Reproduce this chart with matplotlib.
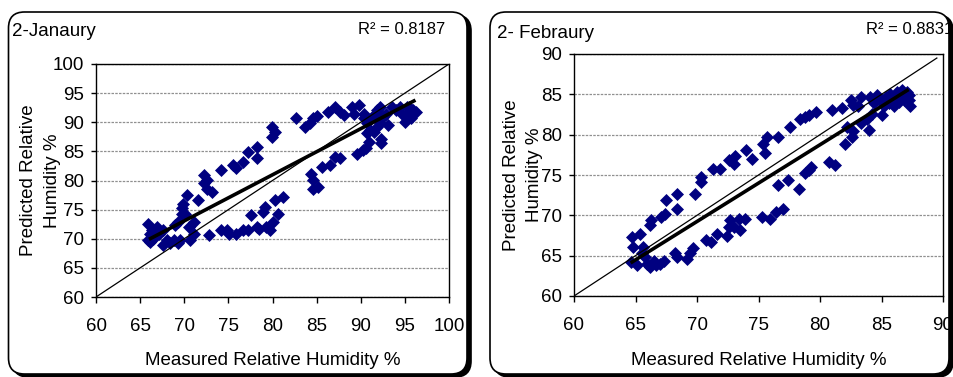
import matplotlib
matplotlib.use("Agg")
import matplotlib.pyplot as plt
from matplotlib.patches import FancyBboxPatch
from matplotlib.transforms import IdentityTransform

plt.rcParams["font.family"] = ["Liberation Sans", "DejaVu Sans"]

# ---- data ----
jan_measured = [65.9, 66.1, 66.1, 66.5, 66.9, 67.1, 67.6, 67.6, 68.0, 68.4, 68.8, 69.3, 69.5,
                68.9, 69.3, 69.7, 69.9, 70.3, 69.7, 70.1, 70.5, 70.7, 71.1, 71.1, 71.6, 72.2,
                72.2, 72.6, 72.6, 73.2, 72.8, 74.2, 74.2, 74.8, 75.1, 75.5, 75.9, 75.9, 76.7,
                76.7, 77.2, 77.2, 77.6, 78.2, 78.2, 78.2, 78.5, 78.9, 79.1, 79.3, 79.9, 79.9,
                80.3, 79.7, 80.1, 80.3, 80.6, 81.2, 82.7, 83.7, 84.2, 84.6, 85.0, 84.4, 84.6,
                84.6, 85.2, 85.6, 86.3, 86.5, 87.1, 87.1, 87.7, 87.7, 88.1, 89.0, 89.2, 89.6,
                89.8, 90.2, 90.4, 90.6, 90.7, 90.9, 91.1, 91.5, 91.8, 91.8, 92.2, 92.3, 92.3,
                92.5, 92.9, 93.1, 93.5, 94.0, 94.4, 94.8, 95.0, 95.2, 95.4, 95.7, 95.9, 96.3,
                95.5, 90.4, 90.7, 91.3, 91.7, 92.0, 92.2, 65.9, 66.3, 66.7]
jan_predicted = [72.6, 70.9, 69.5, 70.0, 72.0, 70.9, 71.5, 68.9, 69.7, 69.2, 69.7, 69.2, 69.7,
                 72.3, 72.9, 74.3, 76.0, 77.5, 75.2, 74.3, 72.0, 69.7, 72.9, 70.9, 76.6, 80.9,
                 79.5, 80.1, 78.6, 78.1, 70.6, 81.8, 71.5, 71.5, 70.9, 82.6, 82.1, 70.9, 83.2,
                 71.5, 84.9, 71.5, 74.0, 85.8, 83.8, 72.0, 71.7, 74.6, 75.5, 72.0, 89.2, 87.5,
                 88.4, 71.5, 72.9, 76.6, 74.3, 77.2, 90.7, 89.2, 89.8, 90.7, 91.0, 81.2, 80.1,
                 78.6, 78.9, 82.3, 91.8, 82.6, 84.1, 92.7, 83.8, 91.8, 91.2, 92.7, 91.5, 84.6,
                 93.0, 85.2, 91.5, 85.5, 89.8, 86.6, 88.7, 88.4, 92.1, 89.2, 92.7, 87.2, 86.4,
                 90.9, 91.5, 89.5, 92.7, 92.1, 92.7, 91.2, 90.1, 92.7, 91.5, 90.7, 92.1, 91.8,
                 92.7, 90.7, 88.2, 90.9, 91.5, 90.4, 89.8, 69.7, 71.5, 71.5]

feb_measured = [64.7, 64.8, 64.6, 65.1, 65.4, 65.6, 65.5, 65.8, 65.9, 66.2, 66.2, 66.3, 66.5,
                66.7, 67.0, 67.3, 67.1, 67.4, 67.5, 68.4, 68.4, 68.2, 68.4, 69.2, 69.4, 69.7,
                69.8, 70.3, 70.3, 70.7, 71.1, 71.3, 71.6, 71.9, 72.6, 72.4, 72.6, 72.7, 73.0,
                73.0, 73.1, 73.4, 73.5, 73.9, 74.0, 74.5, 75.3, 75.4, 75.5, 75.7, 75.9, 76.4,
                76.6, 76.6, 77.0, 77.4, 77.6, 78.3, 78.4, 78.8, 78.8, 79.1, 79.1, 79.3, 79.7,
                80.7, 81.0, 81.2, 81.8, 82.0, 82.2, 82.5, 82.6, 82.7, 82.7, 83.1, 83.3, 83.3,
                83.8, 84.0, 84.1, 84.2, 84.4, 84.6, 84.9, 85.0, 85.2, 85.4, 85.6, 85.7, 85.8,
                86.0, 86.1, 86.3, 86.4, 86.5, 86.7, 86.8, 86.9, 87.1, 87.2, 87.3, 87.2]
feb_predicted = [67.3, 66.1, 64.2, 63.8, 67.7, 66.1, 65.3, 64.8, 64.0, 63.6, 68.8, 69.4, 64.4,
                 63.8, 64.0, 64.4, 69.8, 70.2, 71.9, 72.7, 70.8, 65.3, 64.8, 64.6, 65.3, 65.9,
                 72.7, 74.1, 74.8, 66.9, 66.7, 75.8, 67.7, 75.8, 76.8, 67.5, 68.6, 69.4, 76.4,
                 68.6, 77.3, 69.6, 68.2, 69.6, 78.1, 77.0, 69.8, 78.9, 77.7, 79.7, 69.6, 70.4,
                 79.7, 73.7, 70.8, 74.4, 81.0, 73.3, 82.0, 82.2, 75.2, 82.4, 75.6, 76.0, 82.8,
                 76.6, 83.0, 76.2, 83.3, 78.9, 81.0, 84.3, 79.7, 80.4, 83.7, 83.5, 84.7, 81.4,
                 82.0, 80.6, 84.7, 82.6, 83.9, 84.9, 84.3, 82.4, 83.5, 84.7, 83.9, 85.1, 84.3,
                 83.5, 84.7, 85.3, 84.1, 84.7, 85.5, 84.3, 84.9, 85.3, 84.3, 83.5, 84.9]

jan_trend_x = [66.0, 96.2]
jan_trend_y = [69.9, 93.8]
feb_trend_x = [64.6, 87.2]
feb_trend_y = [64.1, 85.6]

jan_diag = [60, 100]
feb_diag = [60, 89.5]

jan_ticks = [60, 65, 70, 75, 80, 85, 90, 95, 100]
feb_ticks = [60, 65, 70, 75, 80, 85, 90]

W, H = 954, 377
fig = plt.figure(figsize=(W / 100, H / 100), dpi=100)


def px_axes(left, top, right, bottom):
    return fig.add_axes([left / W, 1 - bottom / H, (right - left) / W, (bottom - top) / H])


def panel_box(left, top, right, bottom):
    # shadow first, then the white rounded frame
    for dx, dy, fc in [(4, -3, "black"), (0, 0, "white")]:
        box = FancyBboxPatch((left + dx, H - bottom + dy), right - left, bottom - top,
                             boxstyle="round,pad=0,rounding_size=16",
                             transform=IdentityTransform(), facecolor=fc,
                             edgecolor="black", linewidth=1.2, zorder=0)
        fig.add_artist(box)


panel_box(8.5, 12, 467, 374)
panel_box(490, 12, 949, 374)

panels = [
    (px_axes(96, 64, 449, 297), jan_measured, jan_predicted, jan_trend_x, jan_trend_y,
     jan_diag, jan_ticks, -0.100, -0.236),
    (px_axes(574, 54, 943, 296), feb_measured, feb_predicted, feb_trend_x, feb_trend_y,
     feb_diag, feb_ticks, -0.084, -0.231),
]

for ax, mx, py, tx, ty, diag, ticks, ylx, xly in panels:
    ax.set_zorder(2)
    ax.scatter(mx, py, marker="D", s=44, color="#000080", linewidths=0, zorder=3)
    ax.plot(diag, diag, color="black", linewidth=0.9, zorder=4)
    ax.plot(tx, ty, color="black", linewidth=2.6, solid_capstyle="butt", zorder=5)
    ax.set_xlim(ticks[0], ticks[-1])
    ax.set_ylim(ticks[0], ticks[-1])
    ax.set_xticks(ticks)
    ax.set_yticks(ticks)
    ax.yaxis.grid(True, color="#909090", linewidth=0.9, linestyle=(0, (2, 1)))
    ax.set_axisbelow(True)
    for sp in ax.spines.values():
        sp.set_color("black")
        sp.set_linewidth(1.0)
    ax.tick_params(axis="x", direction="out", length=4, width=1, pad=11, labelsize=13.5)
    ax.tick_params(axis="y", direction="out", length=3.5, width=1, pad=5, labelsize=13.5)
    ax.set_xlabel("Measured Relative Humidity %", fontsize=13.5)
    ax.set_ylabel("Predicted Relative\nHumidity %", fontsize=13.5, linespacing=1.5)
    ax.yaxis.set_label_coords(ylx, 0.5)
    ax.xaxis.set_label_coords(0.5, xly)

fig.text(12 / W, 1 - 31 / H, "2-Janaury", fontsize=13.5, ha="left", va="center")
fig.text(445 / W, 1 - 30 / H, "R² = 0.8187", fontsize=12, ha="right", va="center")
fig.text(497 / W, 1 - 34 / H, "2- Febraury", fontsize=13.5, ha="left", va="center")
fig.text(866 / W, 1 - 30 / H, "R² = 0.8831", fontsize=12, ha="left", va="center")

fig.savefig("out.png", dpi=100)
